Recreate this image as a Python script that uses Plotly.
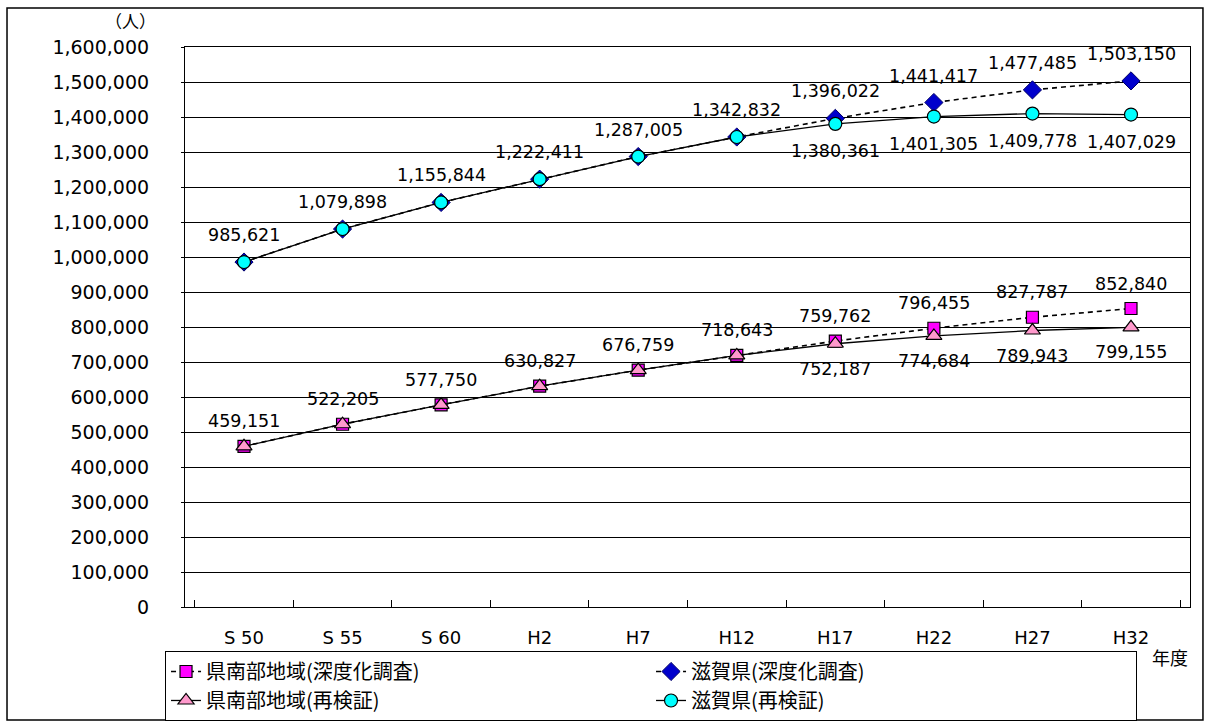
import plotly.graph_objects as go

categories = ["S 50", "S 55", "S 60", "H2", "H7", "H12", "H17", "H22", "H27", "H32"]
south_deep = [459151, 522205, 577750, 630827, 676759, 718643, 759762, 796455, 827787, 852840]
shiga_deep = [985621, 1079898, 1155844, 1222411, 1287005, 1342832, 1396022, 1441417, 1477485, 1503150]
south_re = [459151, 522205, 577750, 630827, 676759, 718643, 752187, 774684, 789943, 799155]
shiga_re = [985621, 1079898, 1155844, 1222411, 1287005, 1342832, 1380361, 1401305, 1409778, 1407029]
# which points of the 再検証 series get their own (lower) label
re_labelled = [False] * 6 + [True] * 4

names = ["県南部地域(深度化調査)", "滋賀県(深度化調査)", "県南部地域(再検証)", "滋賀県(再検証)"]

dash_style = "5px,4px"
fig = go.Figure()
fig.add_trace(go.Scatter(
    x=categories, y=south_deep, name=names[0], mode="lines+markers",
    line=dict(color="black", width=1.6, dash=dash_style),
    marker=dict(symbol="square", size=12, color="#FF00FF", line=dict(color="black", width=1.2))))
fig.add_trace(go.Scatter(
    x=categories, y=shiga_deep, name=names[1], mode="lines+markers",
    line=dict(color="black", width=1.6, dash=dash_style),
    marker=dict(symbol="diamond", size=14, color="#0000CC", line=dict(color="#000066", width=1))))
fig.add_trace(go.Scatter(
    x=categories, y=south_re, name=names[2], mode="lines+markers",
    line=dict(color="black", width=1.3),
    marker=dict(symbol="triangle-up", size=14, color="#FF99CC", line=dict(color="black", width=1.2))))
fig.add_trace(go.Scatter(
    x=categories, y=shiga_re, name=names[3], mode="lines+markers",
    line=dict(color="black", width=1.3),
    marker=dict(symbol="circle", size=13, color="#00FFFF", line=dict(color="black", width=1.2))))

lab_font = dict(family="DejaVu Sans", size=17.5, color="black")
anns = []
for c, v in zip(categories, south_deep):
    anns.append(dict(x=c, y=v, text=f"{v:,}", showarrow=False, yshift=25, font=lab_font))
for c, v in zip(categories, shiga_deep):
    anns.append(dict(x=c, y=v, text=f"{v:,}", showarrow=False, yshift=27, font=lab_font))
for c, v, s in zip(categories, south_re, re_labelled):
    if s:
        anns.append(dict(x=c, y=v, text=f"{v:,}", showarrow=False, yshift=-25, font=lab_font))
for c, v, s in zip(categories, shiga_re, re_labelled):
    if s:
        anns.append(dict(x=c, y=v, text=f"{v:,}", showarrow=False, yshift=-27, font=lab_font))

anns.append(dict(xref="paper", yref="paper", x=-0.0547, y=1.048, text="（人）", showarrow=False,
                 xanchor="center", yanchor="middle",
                 font=dict(family="Noto Sans CJK JP", size=17, color="black")))
anns.append(dict(xref="paper", yref="paper", x=0.980, y=-0.0893, text="年度", showarrow=False,
                 xanchor="center", yanchor="middle",
                 font=dict(family="Noto Sans CJK JP", size=18, color="black")))

fig.update_layout(
    width=1209, height=728,
    margin=dict(l=185, r=19, t=47, b=121, autoexpand=False),
    paper_bgcolor="white", plot_bgcolor="white",
    showlegend=True,
    legend=dict(orientation="h", xref="container", yref="container",
                x=0.1365, y=0.1058, xanchor="left", yanchor="top",
                bordercolor="black", borderwidth=1, bgcolor="white",
                font=dict(family="Noto Sans CJK JP", size=20, color="black"),
                entrywidth=440, entrywidthmode="pixels", traceorder="normal",
                tracegroupgap=0, itemwidth=30),
    annotations=anns,
    shapes=[dict(type="rect", xref="paper", yref="paper", x0=-0.1771, x1=1.0129,
                 y0=-0.2018, y1=1.0696, line=dict(color="black", width=1.5))],
)
fig.update_xaxes(
    type="category", showline=True, mirror=True, linecolor="black", linewidth=1.2,
    ticks="inside", tickson="boundaries", ticklen=7, tickcolor="black",
    showgrid=False, ticklabelstandoff=14, automargin=False,
    tickfont=dict(family="DejaVu Sans", size=18, color="black"))
fig.update_yaxes(
    range=[0, 1600000], dtick=100000, tickformat=",", showline=True, mirror=True,
    linecolor="black", linewidth=1.2, showgrid=True, gridcolor="black", gridwidth=1,
    ticks="outside", ticklen=3, tickcolor="black", zeroline=False, ticklabelstandoff=28,
    automargin=False,
    tickfont=dict(family="DejaVu Sans", size=19, color="black"))

fig.write_html(
    "out.html", config={"displayModeBar": False},
    post_script=("document.body.style.margin='0';"
                 "document.body.style.overflow='hidden';"
                 "document.documentElement.style.overflow='hidden';"))
